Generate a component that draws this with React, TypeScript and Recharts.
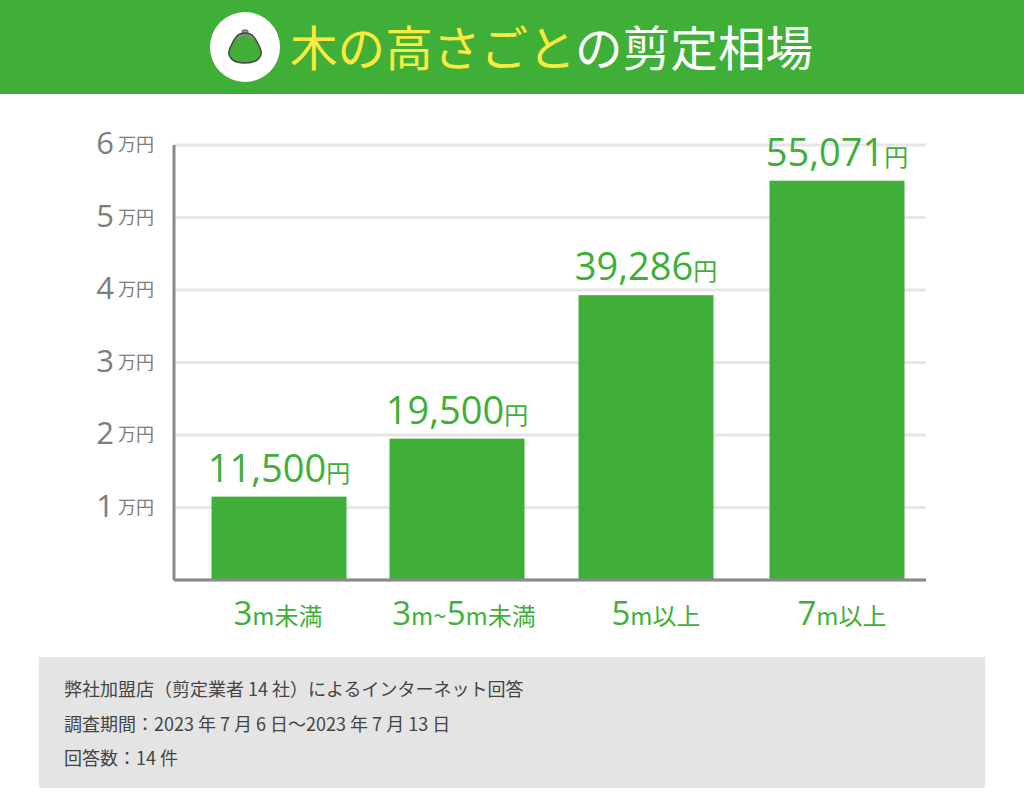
import { BarChart, Bar, CartesianGrid, XAxis, YAxis, LabelList } from "recharts";

const categories = ["3m未満", "3m~5m未満", "5m以上", "7m以上"];
const prices = [11500, 19500, 39286, 55071];
const priceLabels = ["11,500", "19,500", "39,286", "55,071"];
const yTicks = [0, 10000, 20000, 30000, 40000, 50000, 60000];
const yTickDigits = ["", "1", "2", "3", "4", "5", "6"];
const noteLines = [
  "弊社加盟店（剪定業者 14 社）によるインターネット回答",
  "調査期間：2023 年 7 月 6 日〜2023 年 7 月 13 日",
  "回答数：14 件",
];

const tableData = categories.map((name, i) => ({ name, price: prices[i], label: priceLabels[i] }));

const GREEN = "#40AF38";
const YELLOW = "#FBE93F";
const GRAY = "#7d7d7d";
const FONT = "'Noto Sans CJK JP', 'Noto Sans', sans-serif";
const DIGIT_FONT = "'Open Sans', 'Noto Sans CJK JP', sans-serif";

// the bars in the picture are not evenly spaced, so each one is pushed off its band a little
const barNudge = [10.5, 0.5, 1.5, 4.5];
const tickNudge = [10, 8, 12, 10];

function YTick(props: any) {
  const { x, y, index } = props;
  const digit = yTickDigits[index];
  if (!digit) return null;
  return (
    <g>
      <text x={x - 52} y={y + 9} textAnchor="end" fontFamily={DIGIT_FONT} fontSize={31} fill={GRAY}>
        {digit}
      </text>
      <text x={x - 12} y={y + 6} textAnchor="end" fontFamily={FONT} fontSize={18} fill={GRAY}>
        万円
      </text>
    </g>
  );
}

function XTick(props: any) {
  const { x, y, payload, index } = props;
  const parts = String(payload.value).match(/[0-9]+|m|~|[^0-9m~]+/g) || [];
  return (
    <text x={x + tickNudge[index]} y={y + 37} textAnchor="middle" fontFamily={FONT} fill={GREEN}>
      {parts.map((p: string, i: number) => (
        <tspan key={i} fontFamily={/[0-9]/.test(p) ? DIGIT_FONT : FONT} fontSize={/[0-9]/.test(p) ? 33 : 24}>
          {p}
        </tspan>
      ))}
    </text>
  );
}

function NudgedBar(props: any) {
  const { x, y, width, height, index } = props;
  return <rect x={x + barNudge[index]} y={y} width={width} height={height} fill={GREEN} />;
}

function PriceLabel(props: any) {
  const { x, y, width, value, index } = props;
  return (
    <text x={x + width / 2 + barNudge[index]} y={y - 15} textAnchor="middle" fill={GREEN}>
      <tspan fontFamily={DIGIT_FONT} fontSize={38}>{value}</tspan>
      <tspan fontFamily={FONT} fontSize={24}>円</tspan>
    </text>
  );
}

function Purse() {
  return (
    <svg width={40} height={40} viewBox="0 0 40 40" style={{ position: "absolute", left: 225, top: 27 }}>
      <rect x={17} y={3} width={6} height={4} rx={1.5} fill="#999" stroke="#555" />
      <path d="M20 6 C11 6 9 13 5 21 C1 30 8 36 20 36 C32 36 39 30 35 21 C31 13 29 6 20 6 Z" fill={GREEN} stroke="#444" strokeWidth={1.5} />
      <path d="M12 12 C15 7 25 7 28 12" fill="none" stroke="#888" strokeWidth={2} />
    </svg>
  );
}

export default function App() {
  return (
    <div style={{ position: "absolute", left: 0, top: 0, width: 1024, height: 806, background: "#fff", overflow: "hidden" }}>
      <div style={{ position: "absolute", left: 0, top: 0 }}>
        <BarChart width={1024} height={806} data={tableData} margin={{ top: 145, right: 98, bottom: 0, left: 0 }} barSize={135}>
          <CartesianGrid horizontal vertical={false} stroke="#e6e6e6" strokeWidth={3} />
          <XAxis
            dataKey="name"
            height={226}
            axisLine={{ stroke: "#8a8a8a", strokeWidth: 3 }}
            tickLine={false}
            tick={<XTick />}
            interval={0}
          />
          <YAxis
            width={174}
            domain={[0, 60000]}
            ticks={yTicks}
            axisLine={{ stroke: "#8a8a8a", strokeWidth: 3 }}
            tickLine={false}
            tick={<YTick />}
            interval={0}
          />
          <Bar dataKey="price" shape={<NudgedBar />} isAnimationActive={false}>
            <LabelList dataKey="label" content={<PriceLabel />} />
          </Bar>
        </BarChart>
      </div>

      <div style={{ position: "absolute", left: 0, top: 0, width: 1024, height: 94, background: GREEN }} />
      <div style={{ position: "absolute", left: 210, top: 12, width: 70, height: 70, borderRadius: "50%", background: "#fff" }} />
      <Purse />
      <div style={{ position: "absolute", left: 290, top: 10, fontFamily: FONT, fontSize: 47.6, lineHeight: "72px", whiteSpace: "nowrap", color: "#fff" }}>
        <span style={{ color: YELLOW }}>木の高さごと</span>の剪定相場
      </div>

      <div style={{ position: "absolute", left: 39, top: 657, width: 946, height: 131, background: "#e4e4e4" }}>
        {noteLines.map((line, i) => (
          <div key={i} style={{ position: "absolute", left: 25, top: 18 + i * 34.5, fontFamily: FONT, fontSize: 18, lineHeight: "26px", color: "#444", whiteSpace: "nowrap" }}>
            {line}
          </div>
        ))}
      </div>
    </div>
  );
}
